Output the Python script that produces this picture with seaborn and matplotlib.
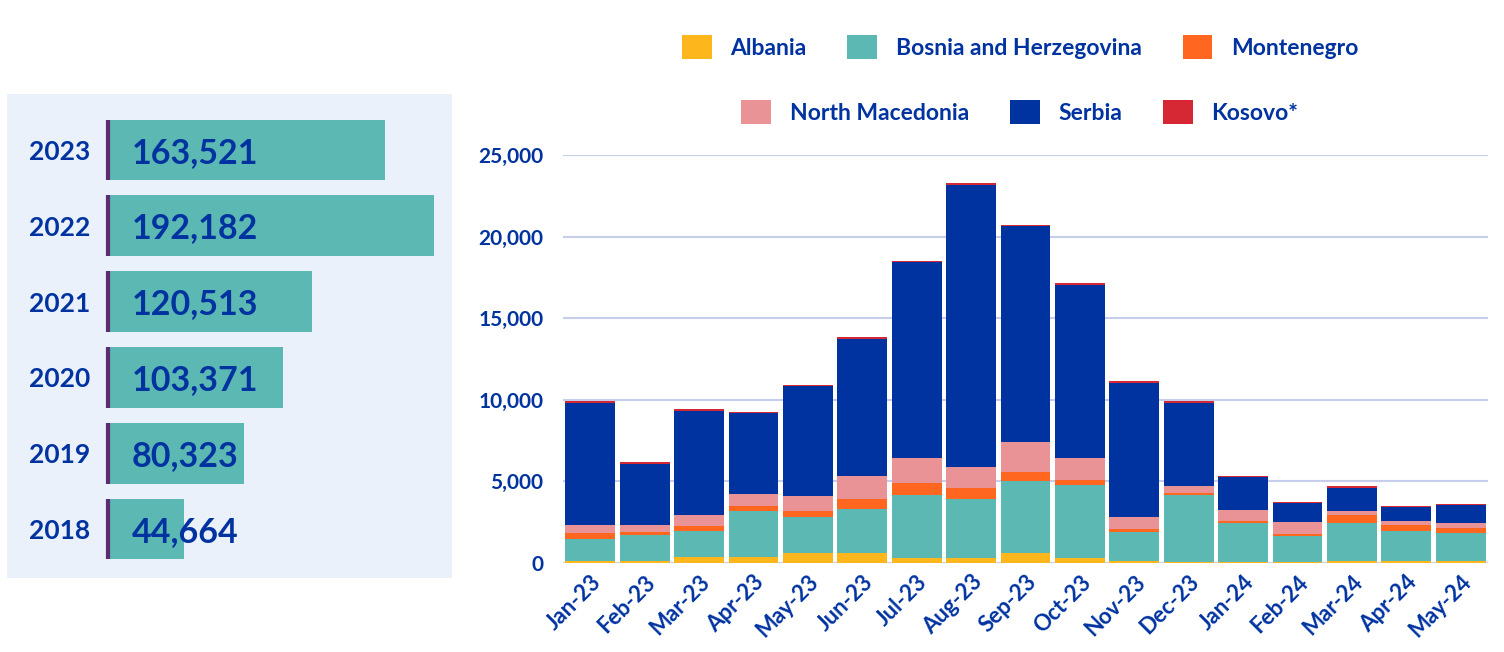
import numpy as np
import seaborn as sns
import matplotlib.pyplot as plt
from matplotlib.patches import Patch, Rectangle
from matplotlib.ticker import StrMethodFormatter

# yearly totals (left panel)
years = ['2023', '2022', '2021', '2020', '2019', '2018']
year_totals = [163521, 192182, 120513, 103371, 80323, 44664]

# monthly detections by nationality (right panel)
months = ['Jan-23', 'Feb-23', 'Mar-23', 'Apr-23', 'May-23', 'Jun-23', 'Jul-23', 'Aug-23',
          'Sep-23', 'Oct-23', 'Nov-23', 'Dec-23', 'Jan-24', 'Feb-24', 'Mar-24', 'Apr-24', 'May-24']
albania = [140, 140, 390, 390, 590, 630, 330, 330, 630, 330, 140, 40, 40, 40, 100, 100, 100]
bosnia = [1350, 1550, 1590, 2770, 2250, 2650, 3860, 3570, 4370, 4470, 1780, 4150, 2430, 1590, 2370, 1840, 1760]
montenegro = [370, 230, 260, 350, 370, 660, 740, 720, 590, 310, 180, 80, 120, 120, 450, 410, 310]
north_macedonia = [490, 430, 720, 740, 920, 1410, 1530, 1290, 1840, 1350, 740, 470, 670, 780, 290, 250, 310]
serbia = [7460, 3740, 6330, 4920, 6700, 8380, 11970, 17280, 13190, 10600, 8190, 5070, 2000, 1120, 1390, 840, 1060]
kosovo = [100, 80, 120, 90, 100, 100, 100, 100, 100, 100, 120, 100, 80, 100, 120, 80, 100]

series = [
    ('Albania', albania, '#FDB71C'),
    ('Bosnia and Herzegovina', bosnia, '#5CB8B2'),
    ('Montenegro', montenegro, '#FF6720'),
    ('North Macedonia', north_macedonia, '#E99397'),
    ('Serbia', serbia, '#0033A0'),
    ('Kosovo*', kosovo, '#D62734'),
]

navy = '#0033A0'
sns.set_style('white')
plt.rcParams['font.family'] = ['Lato', 'DejaVu Sans']
plt.rcParams['font.weight'] = 'bold'

fig = plt.figure(figsize=(15.04, 6.52), dpi=100)

# light background box behind the yearly bars
fig.patches.append(Rectangle((7 / 1504, 1 - 578 / 652), 445 / 1504, 484 / 652,
                             transform=fig.transFigure, facecolor='#EAF1FB',
                             edgecolor='none', zorder=-5))

# ---- left: yearly totals ----
axl = fig.add_axes([108 / 1504, 1 - 567 / 652, 326 / 1504, 455 / 652])
axl.patch.set_alpha(0)
sns.barplot(x=year_totals, y=years, orient='h', color='#5CB8B2', saturation=1,
            width=0.8, linewidth=0, ax=axl)
axl.set_xlim(0, 192182)
axl.set_ylim(5.5, -0.5)
axl.set_xticks([])
axl.set_xlabel('')
axl.set_ylabel('')
sns.despine(ax=axl, left=True, bottom=True)
# purple marker on the left edge of every bar
pos = np.arange(len(years))
axl.vlines(np.zeros(len(years)), pos - 0.4, pos + 0.4,
           color='#5B2C6F', linewidth=3, zorder=5, clip_on=False)
axl.tick_params(axis='y', length=0, pad=13, labelsize=19, labelcolor=navy)
for i, v in enumerate(year_totals):
    axl.annotate(f'{v:,}', xy=(0, i), xytext=(17, -2), textcoords='offset points',
                 va='center', ha='left', fontsize=24.5, fontweight='bold', color=navy)

# ---- right: monthly stacked bars ----
ax = fig.add_axes([563 / 1504, 1 - 563 / 652, 925 / 1504, 408 / 652])
bottom = np.zeros(len(months))
for name, vals, col in series:
    sns.barplot(x=months, y=vals, bottom=bottom, color=col, saturation=1,
                width=0.915, linewidth=0, ax=ax, zorder=3)
    bottom += np.array(vals)

ax.set_ylim(0, 25000)
ax.set_xlim(-0.5, len(months) - 0.5)
ax.set_yticks(range(0, 25001, 5000))
ax.yaxis.set_major_formatter(StrMethodFormatter('{x:,.0f}'))
ax.grid(axis='y', color='#C5CEEB', linewidth=1.5, zorder=0)
ax.set_axisbelow(True)
sns.despine(ax=ax, left=True, bottom=True)
ax.tick_params(axis='y', length=0, pad=14, labelsize=15, labelcolor=navy)
ax.tick_params(axis='x', length=0, pad=6, labelsize=16, labelcolor=navy)
plt.setp(ax.get_xticklabels(), rotation=45, ha='right', rotation_mode='anchor')
ax.set_xlabel('')
ax.set_ylabel('')

handles = [Patch(facecolor=c, edgecolor='none', label=n) for n, _, c in series]
leg_kw = dict(ncol=3, frameon=False, fontsize=16.5, handlelength=1.3, handleheight=1.3,
              handletextpad=0.8, columnspacing=1.8, labelcolor=navy, loc='center')
leg1 = fig.legend(handles=handles[:3], bbox_to_anchor=(1020 / 1504, 1 - 47 / 652), **leg_kw)
leg2 = fig.legend(handles=handles[3:], bbox_to_anchor=(1020 / 1504, 1 - 112 / 652), **leg_kw)

fig.savefig('out.png', dpi=100)
